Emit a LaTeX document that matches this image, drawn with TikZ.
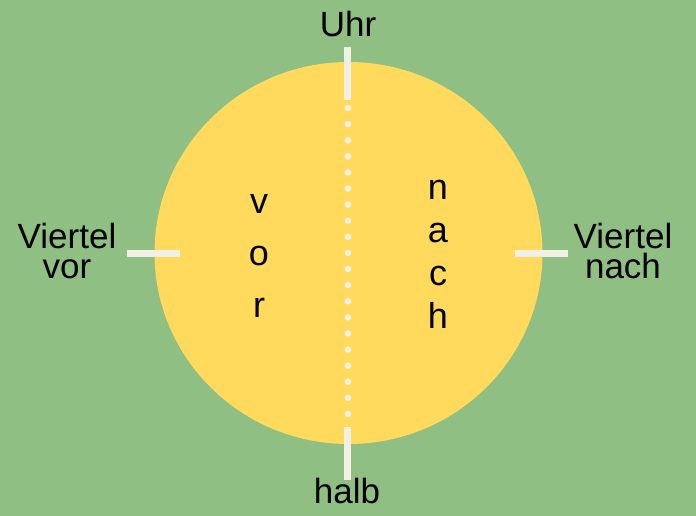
\documentclass[tikz,border=0pt]{standalone}
\usepackage{fontspec}
\setmainfont{Liberation Sans}
\definecolor{bggreen}{HTML}{8FBF82}
\definecolor{dialyellow}{HTML}{FFDA5C}
\definecolor{tickwhite}{HTML}{F2F0E6}
\tikzset{
  tickline/.style={draw=tickwhite, line width=7pt},
  label/.style={inner sep=0pt, anchor=base, align=center, font=\fontsize{35}{30}\selectfont},
  inner/.style={inner sep=0pt, anchor=base, align=center},
  dot/.style={fill=tickwhite, draw=none}
}
\begin{document}
\begin{tikzpicture}[x=1pt,y=-1pt]
\fill[bggreen] (0,0) rectangle (696,516);
\useasboundingbox (0,0) rectangle (696,516);
% dial
\fill[dialyellow] (348.5,253) ellipse [x radius=194, y radius=191];
% dotted center line
\foreach \k in {0,...,19} {
  \fill[dot] (348,{108+16.1*\k}) circle (3.3);
}
% ticks
\coordinate (t1) at (347,47);  \coordinate (t2) at (347,100);
\coordinate (b1) at (347,427); \coordinate (b2) at (347,480);
\coordinate (l1) at (127,253); \coordinate (l2) at (180,253);
\coordinate (r1) at (515,253); \coordinate (r2) at (568,253);
\draw[tickline] (t1) -- (t2);
\draw[tickline] (b1) -- (b2);
\draw[tickline] (l1) -- (l2);
\draw[tickline] (r1) -- (r2);
% labels
\node[label] (uhr) at (348,37) {Uhr};
\node[label] (halb) at (347,503) {halb};
\node[label] (vv) at (67,278) {Viertel\\vor};
\node[label] (vn) at (623,278) {Viertel\\nach};
\node[inner, font=\fontsize{36}{52}\selectfont] (vor) at (259,317) {v\\o\\r};
\node[inner, font=\fontsize{36}{43}\selectfont] (nach) at (438,328) {n\\a\\c\\h};
\end{tikzpicture}
\end{document}
